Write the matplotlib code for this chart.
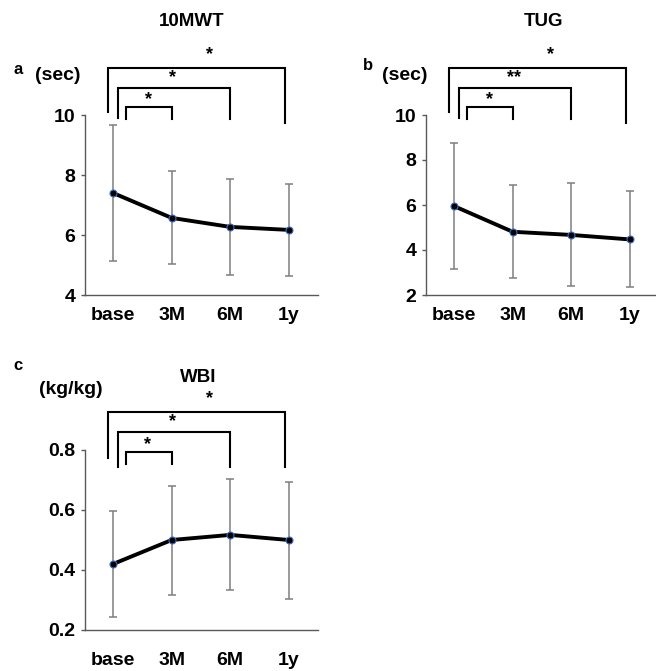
import matplotlib
matplotlib.use("Agg")
import matplotlib.pyplot as plt
import matplotlib.transforms as mtransforms

plt.rcParams["font.family"] = ["Liberation Sans", "DejaVu Sans"]
plt.rcParams["font.weight"] = "bold"

# ---- data --------------------------------------------------------------------
timepoints = ["base", "3M", "6M", "1y"]

mwt_mean = [7.40, 6.57, 6.27, 6.17]
mwt_upper = [9.67, 8.13, 7.87, 7.70]
mwt_lower = [5.13, 5.03, 4.67, 4.63]

tug_mean = [5.95, 4.81, 4.67, 4.47]
tug_upper = [8.77, 6.89, 6.99, 6.64]
tug_lower = [3.14, 2.77, 2.41, 2.34]

wbi_mean = [0.420, 0.500, 0.517, 0.500]
wbi_upper = [0.597, 0.680, 0.703, 0.694]
wbi_lower = [0.243, 0.317, 0.333, 0.304]

# significance vs. baseline for 3M, 6M, 1y
mwt_sig = ["*", "*", "*"]
tug_sig = ["*", "**", "*"]
wbi_sig = ["*", "*", "*"]

# ---- bracket geometry (x in data units, y in axes fraction) ------------------
# (x_left, x_right, y_top, y_left_end, y_right_end, star_x, star_y)
BR_TOP = [
    (0.22, 1.00, 1.044, 0.978, 0.978, 0.60, 1.083),
    (0.085, 2.00, 1.150, 0.983, 0.978, 1.02, 1.206),
    (-0.085, 2.93, 1.261, 1.014, 0.956, 1.64, 1.333),
]
BR_WBI = [
    (0.22, 1.00, 0.989, 0.922, 0.922, 0.58, 1.030),
    (0.085, 2.00, 1.100, 0.906, 0.906, 1.02, 1.156),
    (-0.085, 2.93, 1.211, 0.956, 0.906, 1.64, 1.283),
]

W, H = 656, 671
fig = plt.figure(figsize=(W / 100, H / 100), dpi=100)


def px_axes(left, right, top, bottom):
    return fig.add_axes([left / W, 1 - bottom / H, (right - left) / W, (bottom - top) / H])


def panel(ax, mean, upper, lower, sig, ylim, yticks, yfmt, title, letter, unit, brackets,
          title_x, title_y, letter_xy, unit_xy, xpad):
    x = list(range(len(timepoints)))
    yerr = [[m - lo for m, lo in zip(mean, lower)], [u - m for m, u in zip(mean, upper)]]
    ax.errorbar(x, mean, yerr=yerr, fmt="none", ecolor="#7f7f7f", elinewidth=1.1,
                capsize=3, capthick=1.1, zorder=2)
    ax.plot(x, mean, color="black", lw=2.8, marker="o", ms=5, mfc="black",
            mec="#3a6fc4", mew=0.8, zorder=3)
    ax.set_xlim(-0.48, 3.5)
    ax.set_ylim(*ylim)
    ax.set_yticks(yticks)
    ax.set_yticklabels([yfmt.format(v) for v in yticks], fontsize=14, fontweight="bold")
    ax.set_xticks(x)
    ax.set_xticklabels(timepoints, fontsize=14, fontweight="bold")
    ax.tick_params(axis="x", length=0, pad=xpad)
    ax.tick_params(axis="y", length=3, width=1, color="#595959", pad=4)
    for s in ("top", "right"):
        ax.spines[s].set_visible(False)
    for s in ("left", "bottom"):
        ax.spines[s].set_color("#595959")
        ax.spines[s].set_linewidth(1.0)

    tr = mtransforms.blended_transform_factory(ax.transData, ax.transAxes)
    for (xl, xr, yt, yl, yr, sx, sy), lab in zip(brackets, sig):
        ax.plot([xl, xl, xr, xr], [yl, yt, yt, yr], color="black", lw=1.5,
                transform=tr, clip_on=False, solid_joinstyle="miter")
        ax.text(sx, sy, lab, transform=tr, ha="center", va="center", fontsize=13,
                fontweight="bold")

    fig.text(title_x / W, 1 - title_y / H, title, ha="center", va="center",
             fontsize=13.5, fontweight="bold")
    fig.text(letter_xy[0] / W, 1 - letter_xy[1] / H, letter, ha="center", va="center",
             fontsize=12, fontweight="bold")
    fig.text(unit_xy[0] / W, 1 - unit_xy[1] / H, unit, ha="left", va="center",
             fontsize=14, fontweight="bold")


ax_a = px_axes(85, 318, 115, 295)
panel(ax_a, mwt_mean, mwt_upper, mwt_lower, mwt_sig, (4, 10), [4, 6, 8, 10], "{:g}",
      "10MWT", "a", "(sec)", BR_TOP, 192, 22, (18, 69), (35, 76), 9)

ax_b = px_axes(426, 659, 115, 295)
panel(ax_b, tug_mean, tug_upper, tug_lower, tug_sig, (2, 10), [2, 4, 6, 8, 10], "{:g}",
      "TUG", "b", "(sec)", BR_TOP, 544, 22, (368, 66), (382, 76), 9)

ax_c = px_axes(85, 318, 450, 630)
panel(ax_c, wbi_mean, wbi_upper, wbi_lower, wbi_sig, (0.2, 0.8), [0.2, 0.4, 0.6, 0.8], "{:.1f}",
      "WBI", "c", "(kg/kg)", BR_WBI, 198, 378, (18, 366), (39, 389), 16)

fig.savefig("out.png", dpi=100)
